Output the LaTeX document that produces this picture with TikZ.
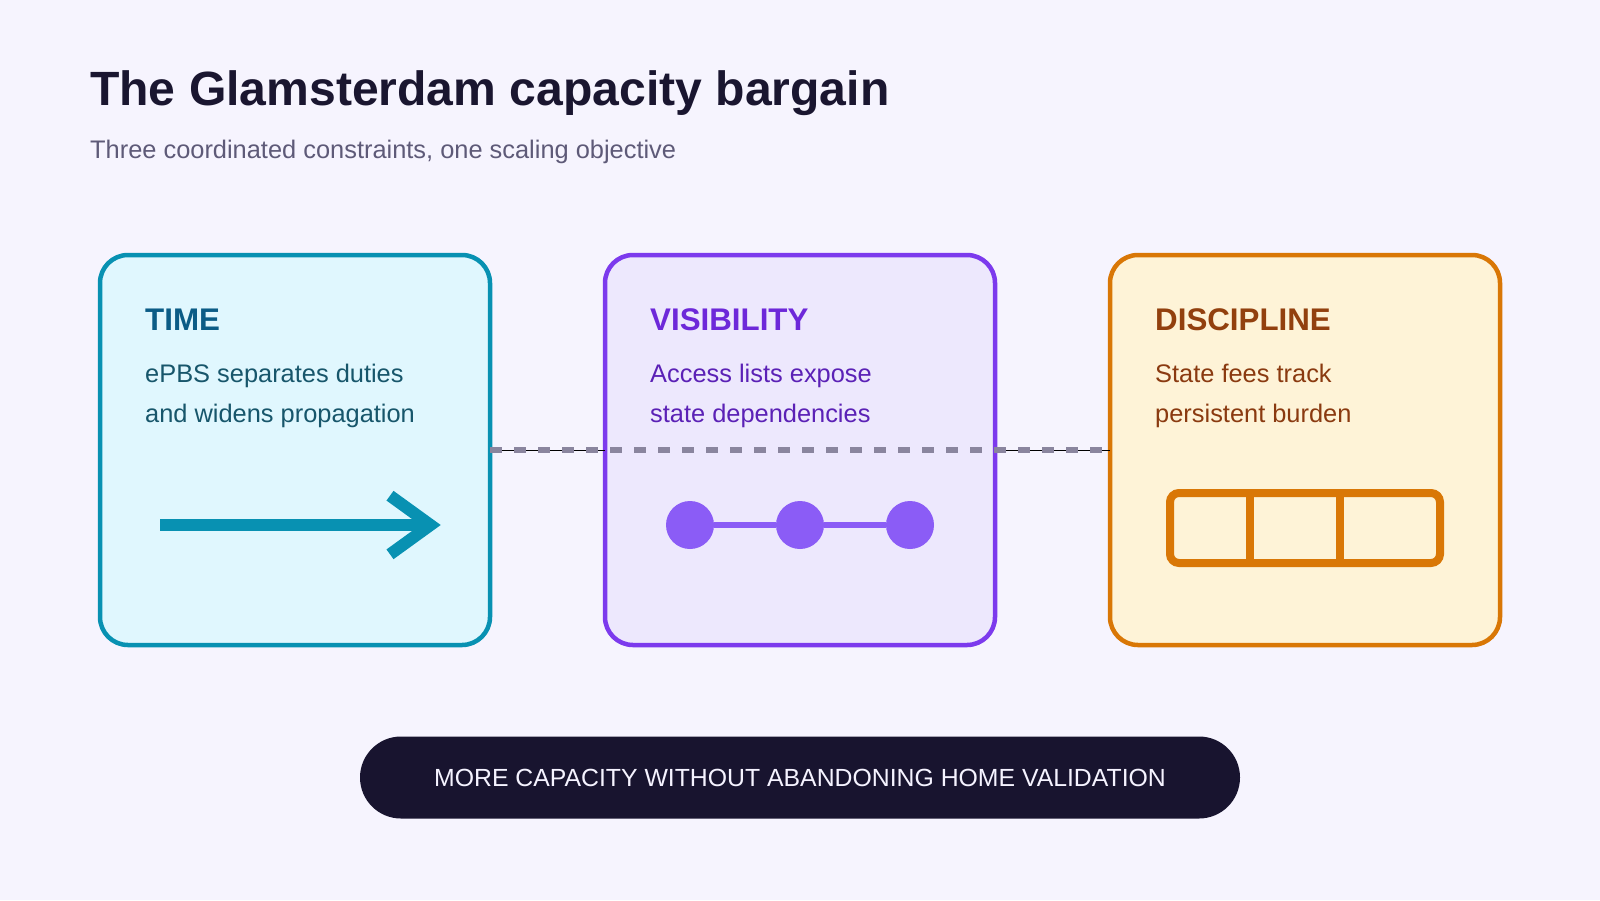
\documentclass[tikz,border=0pt]{standalone}
\usepackage{fontspec}
\setmainfont{Liberation Sans}
\usepackage{tikz}
\usetikzlibrary{positioning, arrows.meta, shapes, calc}
\definecolor{PageBg}{HTML}{F6F4FE}
\definecolor{Ink}{HTML}{1A1630}
\definecolor{SubInk}{HTML}{5E5A78}
\definecolor{TimeLine}{HTML}{0891B2}
\definecolor{TimeFill}{HTML}{E0F7FE}
\definecolor{TimeHead}{HTML}{0B5C86}
\definecolor{TimeBody}{HTML}{17566B}
\definecolor{VisLine}{HTML}{7C3AED}
\definecolor{VisFill}{HTML}{EDE8FD}
\definecolor{VisHead}{HTML}{6D28D9}
\definecolor{VisBody}{HTML}{5B21B6}
\definecolor{VisDot}{HTML}{8B5CF6}
\definecolor{DiscLine}{HTML}{D97706}
\definecolor{DiscFill}{HTML}{FEF3D7}
\definecolor{DiscHead}{HTML}{92400E}
\definecolor{DiscBody}{HTML}{8A3A10}
\definecolor{DashGray}{HTML}{8A859E}
\definecolor{PillInk}{HTML}{18142F}
\definecolor{PillText}{HTML}{F5F3FF}

\begin{document}
\begin{tikzpicture}[x=1pt, y=-1pt,
    card/.style={rectangle, rounded corners=28pt, line width=4.5pt, minimum width=390pt, minimum height=390pt, inner sep=0pt, outer sep=0pt},
    head/.style={anchor=base west, inner sep=0pt, font=\fontsize{31.3}{37}\selectfont\bfseries},
    body/.style={anchor=base west, inner sep=0pt, font=\fontsize{25.4}{30}\selectfont},
    dot/.style={circle, fill=VisDot, minimum size=48pt, inner sep=0pt, outer sep=0pt}]
                % Fondo
                \fill[PageBg] (0,0) rectangle (1600,900);
                \useasboundingbox (0,0) rectangle (1600,900);

                % Titulo
                \node[anchor=base west, inner sep=0pt, text=Ink, font=\fontsize{48.1}{58}\selectfont\bfseries] (title) at (90,105) {The Glamsterdam capacity bargain};
                \node[anchor=base west, inner sep=0pt, text=SubInk, font=\fontsize{25.4}{30}\selectfont] (subtitle) at (90,158) {Three coordinated constraints, one scaling objective};

                % Tarjetas
                \node[card, draw=TimeLine, fill=TimeFill] (time) at (295,450) {};
                \node[card, draw=VisLine, fill=VisFill] (vis) at (800,450) {};
                \node[card, draw=DiscLine, fill=DiscFill] (disc) at (1305,450) {};

                % Conexiones
                \draw[line width=1pt, black] (time.east) -- (vis.west);
                \draw[line width=1pt, black] (vis.east) -- (disc.west);
                \draw[line width=6.5pt, DashGray, dash pattern=on 12pt off 12pt] (time.east) -- (disc.west);

                % Textos
                \node[head, text=TimeHead] (timehead) at (145,330) {TIME};
                \node[body, text=TimeBody] (timeone) at (145,382) {ePBS separates duties};
                \node[body, text=TimeBody] (timetwo) at (145,422) {and widens propagation};
                \node[head, text=VisHead] (vishead) at (650,330) {VISIBILITY};
                \node[body, text=VisBody] (visone) at (650,382) {Access lists expose};
                \node[body, text=VisBody] (vistwo) at (650,422) {state dependencies};
                \node[head, text=DiscHead] (dischead) at (1155,330) {DISCIPLINE};
                \node[body, text=DiscBody] (discone) at (1155,382) {State fees track};
                \node[body, text=DiscBody] (disctwo) at (1155,422) {persistent burden};

                % Iconos
                \draw[line width=12pt, TimeLine] (160,525) -- (430,525);
                \draw[line width=12pt, TimeLine, miter limit=10] (390,495.7) -- (430.5,525) -- (390,554.3);

                \node[dot] (d1) at (690,525) {};
                \node[dot] (d2) at (800,525) {};
                \node[dot] (d3) at (910,525) {};
                \draw[line width=6pt, VisDot] (d1) -- (d2);
                \draw[line width=6pt, VisDot] (d2) -- (d3);

                \draw[line width=8pt, DiscLine, rounded corners=9pt] (1170,493) rectangle (1440,563);
                \draw[line width=8pt, DiscLine] (1250,493) -- (1250,563);
                \draw[line width=8pt, DiscLine] (1340,493) -- (1340,563);

                % Etiquetas
                \node[rectangle, rounded corners=41pt, fill=PillInk, minimum width=880pt, minimum height=82pt, text=PillText, font=\fontsize{24.8}{30}\selectfont] (goal) at (800,777.5) {MORE CAPACITY WITHOUT ABANDONING HOME VALIDATION};
            \end{tikzpicture}
\end{document}
